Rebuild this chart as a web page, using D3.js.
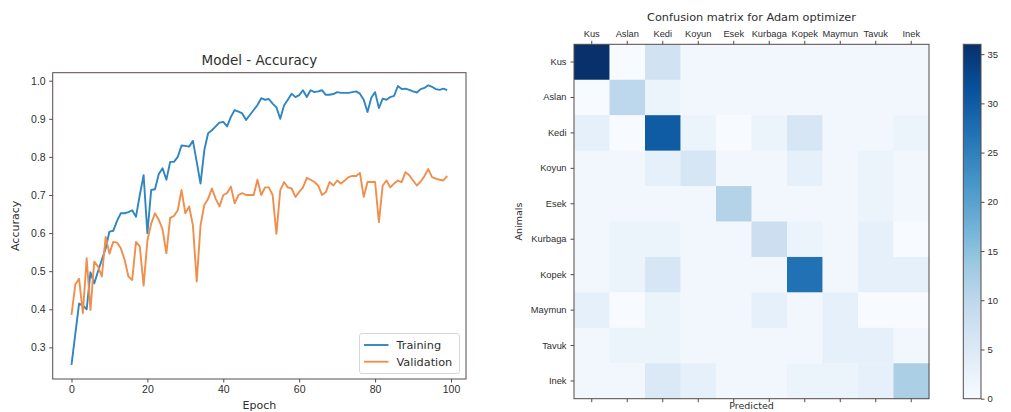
<!DOCTYPE html>
<html>
<head>
<meta charset="utf-8">
<script src="https://cdn.jsdelivr.net/npm/d3@7"></script>
<style>
  html, body { margin: 0; padding: 0; background: #ffffff; }
  svg { display: block; font-family: "DejaVu Sans", sans-serif; }
</style>
</head>
<body>
<svg id="fig" width="1011" height="412"></svg>
<script>
// ---- accuracy curves (one value per epoch) ----
const training = [
  0.254, 0.335, 0.415, 0.410, 0.400, 0.497, 0.468, 0.500, 0.530, 0.560,
  0.604, 0.606, 0.632, 0.652, 0.652, 0.655, 0.660, 0.643, 0.700, 0.752,
  0.600, 0.713, 0.715, 0.755, 0.770, 0.740, 0.787, 0.787, 0.800, 0.830,
  0.829, 0.827, 0.842, 0.787, 0.730, 0.818, 0.862, 0.870, 0.880, 0.890,
  0.892, 0.880, 0.905, 0.923, 0.919, 0.914, 0.897, 0.910, 0.923, 0.936,
  0.954, 0.950, 0.952, 0.940, 0.930, 0.900, 0.935, 0.950, 0.966, 0.957,
  0.962, 0.975, 0.957, 0.975, 0.970, 0.972, 0.975, 0.963, 0.963, 0.965,
  0.970, 0.968, 0.968, 0.968, 0.970, 0.972, 0.966, 0.950, 0.918, 0.955,
  0.970, 0.928, 0.953, 0.950, 0.957, 0.960, 0.986, 0.978, 0.979, 0.976,
  0.972, 0.969, 0.978, 0.981, 0.988, 0.984, 0.978, 0.976, 0.979, 0.975
];
const validation = [
  0.385, 0.465, 0.480, 0.390, 0.534, 0.398, 0.525, 0.512, 0.486, 0.590,
  0.546, 0.577, 0.575, 0.560, 0.530, 0.486, 0.477, 0.577, 0.565, 0.462,
  0.580, 0.625, 0.652, 0.635, 0.610, 0.547, 0.640, 0.645, 0.660, 0.713,
  0.652, 0.670, 0.620, 0.473, 0.620, 0.674, 0.690, 0.717, 0.690, 0.670,
  0.700, 0.705, 0.722, 0.678, 0.700, 0.705, 0.700, 0.700, 0.700, 0.740,
  0.700, 0.720, 0.720, 0.700, 0.598, 0.712, 0.734, 0.720, 0.717, 0.695,
  0.708, 0.720, 0.745, 0.740, 0.734, 0.725, 0.700, 0.707, 0.734, 0.725,
  0.738, 0.730, 0.738, 0.747, 0.750, 0.750, 0.758, 0.695, 0.734, 0.734,
  0.734, 0.629, 0.725, 0.738, 0.720, 0.730, 0.738, 0.734, 0.760, 0.752,
  0.738, 0.725, 0.735, 0.750, 0.768, 0.747, 0.743, 0.740, 0.738, 0.750
];
const accTicks = [0.3, 0.4, 0.5, 0.6, 0.7, 0.8, 0.9, 1.0];
const epochTicks = [0, 20, 40, 60, 80, 100];
const seriesNames = ["Training", "Validation"];

// ---- confusion matrix (rows = actual, columns = predicted) ----
const animals = ["Kus", "Aslan", "Kedi", "Koyun", "Esek", "Kurbaga", "Kopek", "Maymun", "Tavuk", "Inek"];
const confusion = [
  [36, 0,  7, 1,  1, 1,  1, 1, 1, 1],
  [ 0, 10, 2, 1,  1, 1,  1, 1, 1, 1],
  [ 3, 0, 30, 2,  0, 2,  6, 1, 1, 2],
  [ 1, 1,  3, 6,  1, 1,  3, 1, 2, 1],
  [ 1, 1,  1, 1, 11, 1,  1, 1, 2, 1],
  [ 1, 2,  2, 1,  1, 8,  2, 1, 3, 0],
  [ 1, 2,  6, 1,  1, 1, 27, 1, 3, 3],
  [ 3, 0,  2, 1,  1, 3,  1, 3, 0, 0],
  [ 1, 2,  2, 1,  1, 1,  1, 3, 3, 1],
  [ 1, 1,  5, 3,  1, 1,  2, 2, 3, 12]
];
const colorbarTicks = [0, 5, 10, 15, 20, 25, 30, 35];
const colorMax = 36;

const svg = d3.select("#fig");
const frameColor = "#574a47";
const textColor = "#2e2e2e";

// =============== left panel: accuracy per epoch ===============
const L = { left: 52.7, right: 466, top: 72.7, bottom: 379 };
const x = d3.scaleLinear().domain([-4.95, 103.95]).range([L.left, L.right]);
const y = d3.scaleLinear().domain([0.217, 1.021]).range([L.bottom, L.top]);

const left = svg.append("g");

const line = d3.line().x((d, i) => x(i)).y(d => y(d));
const lineColors = ["#2f86c1", "#f08e4c"];
[training, validation].forEach((s, k) => {
  left.append("path")
    .datum(s)
    .attr("d", line)
    .attr("fill", "none")
    .attr("stroke", lineColors[k])
    .attr("stroke-width", 1.9)
    .attr("stroke-linejoin", "round");
});

const xAxis = left.append("g")
  .attr("transform", `translate(0,${L.bottom})`)
  .call(d3.axisBottom(x).tickValues(epochTicks).tickSize(3.5).tickPadding(3.5).tickSizeOuter(0));
const yAxis = left.append("g")
  .attr("transform", `translate(${L.left},0)`)
  .call(d3.axisLeft(y).tickValues(accTicks).tickFormat(d3.format(".1f")).tickSize(3.5).tickPadding(3.5).tickSizeOuter(0));
[xAxis, yAxis].forEach(a => {
  a.select(".domain").remove();
  a.selectAll("line").attr("stroke", frameColor);
  a.selectAll("text").attr("fill", textColor).style("font-size", "10.5px");
});

left.append("rect")
  .attr("x", L.left).attr("y", L.top)
  .attr("width", L.right - L.left).attr("height", L.bottom - L.top)
  .attr("fill", "none").attr("stroke", frameColor).attr("stroke-width", 1);

left.append("text")
  .attr("x", (L.left + L.right) / 2).attr("y", 65)
  .attr("text-anchor", "middle").attr("fill", textColor)
  .style("font-size", "13.5px").text("Model - Accuracy");
left.append("text")
  .attr("x", (L.left + L.right) / 2).attr("y", 408.5)
  .attr("text-anchor", "middle").attr("fill", textColor)
  .style("font-size", "11px").text("Epoch");
left.append("text")
  .attr("transform", `translate(19,${(L.top + L.bottom) / 2}) rotate(-90)`)
  .attr("text-anchor", "middle").attr("fill", textColor)
  .style("font-size", "11px").text("Accuracy");

// legend
const lg = left.append("g").attr("transform", "translate(359.5,333.5)");
lg.append("rect")
  .attr("width", 100).attr("height", 40).attr("rx", 2.5)
  .attr("fill", "#ffffff").attr("fill-opacity", 0.85)
  .attr("stroke", "#d2d2d2").attr("stroke-width", 0.9);
seriesNames.forEach((name, k) => {
  const cy = 11.5 + k * 16.7;
  lg.append("line")
    .attr("x1", 4.5).attr("x2", 29).attr("y1", cy).attr("y2", cy)
    .attr("stroke", lineColors[k]).attr("stroke-width", 1.9);
  lg.append("text")
    .attr("x", 37).attr("y", cy + 4)
    .attr("fill", textColor).style("font-size", "11.3px").text(name);
});

// =============== right panel: confusion matrix ===============
const M = { left: 574, right: 929, top: 44.3, bottom: 398.7 };
const cx = d3.scaleBand().domain(animals).range([M.left, M.right]);
const cy = d3.scaleBand().domain(animals).range([M.top, M.bottom]);

// matplotlib "Blues" stops
const bluesStops = ["#f7fbff", "#deebf7", "#c6dbef", "#9ecae1", "#6baed6", "#4292c6", "#2171b5", "#08519c", "#08306b"];
const color = d3.scaleLinear()
  .domain(bluesStops.map((_, i) => i / (bluesStops.length - 1) * colorMax))
  .range(bluesStops)
  .interpolate(d3.interpolateRgb)
  .clamp(true);

const right = svg.append("g");
const cells = [];
confusion.forEach((row, r) => row.forEach((v, c) => cells.push({ r, c, v })));
right.selectAll("rect.cell")
  .data(cells)
  .join("rect")
  .attr("class", "cell")
  .attr("x", d => cx(animals[d.c]))
  .attr("y", d => cy(animals[d.r]))
  .attr("width", cx.bandwidth() + 0.4)
  .attr("height", cy.bandwidth() + 0.4)
  .attr("fill", d => color(d.v));

right.append("rect")
  .attr("x", M.left).attr("y", M.top)
  .attr("width", M.right - M.left).attr("height", M.bottom - M.top)
  .attr("fill", "none").attr("stroke", frameColor).attr("stroke-width", 1);

const topAxis = right.append("g")
  .attr("transform", `translate(0,${M.top})`)
  .call(d3.axisTop(cx).tickSize(3.5).tickPadding(4).tickSizeOuter(0));
const bottomAxis = right.append("g")
  .attr("transform", `translate(0,${M.bottom})`)
  .call(d3.axisBottom(cx).tickSize(3.5).tickFormat("").tickSizeOuter(0));
const leftAxis = right.append("g")
  .attr("transform", `translate(${M.left},0)`)
  .call(d3.axisLeft(cy).tickSize(3.5).tickPadding(4).tickSizeOuter(0));
[topAxis, bottomAxis, leftAxis].forEach(a => {
  a.select(".domain").remove();
  a.selectAll("line").attr("stroke", frameColor);
  a.selectAll("text").attr("fill", textColor).style("font-size", "9.3px");
});

right.append("text")
  .attr("x", (M.left + M.right) / 2).attr("y", 20.8)
  .attr("text-anchor", "middle").attr("fill", textColor)
  .style("font-size", "11.3px").text("Confusion matrix for Adam optimizer");
right.append("text")
  .attr("x", (M.left + M.right) / 2).attr("y", 409)
  .attr("text-anchor", "middle").attr("fill", textColor)
  .style("font-size", "9.5px").text("Predicted");
right.append("text")
  .attr("transform", `translate(521.5,${(M.top + M.bottom) / 2}) rotate(-90)`)
  .attr("text-anchor", "middle").attr("fill", textColor)
  .style("font-size", "9.5px").text("Animals");

// colorbar
const C = { left: 963.3, right: 981, top: 44.3, bottom: 398.7 };
const cScale = d3.scaleLinear().domain([0, colorMax]).range([C.bottom, C.top]);
const defs = svg.append("defs");
const grad = defs.append("linearGradient")
  .attr("id", "bluesGrad")
  .attr("x1", 0).attr("y1", 1).attr("x2", 0).attr("y2", 0);
bluesStops.forEach((col, i) => {
  grad.append("stop")
    .attr("offset", `${i / (bluesStops.length - 1) * 100}%`)
    .attr("stop-color", col);
});
right.append("rect")
  .attr("x", C.left).attr("y", C.top)
  .attr("width", C.right - C.left).attr("height", C.bottom - C.top)
  .attr("fill", "url(#bluesGrad)")
  .attr("stroke", frameColor).attr("stroke-width", 1);
const cAxis = right.append("g")
  .attr("transform", `translate(${C.right},0)`)
  .call(d3.axisRight(cScale).tickValues(colorbarTicks).tickSize(3.5).tickPadding(3).tickSizeOuter(0));
cAxis.select(".domain").remove();
cAxis.selectAll("line").attr("stroke", frameColor);
cAxis.selectAll("text").attr("fill", textColor).style("font-size", "9.5px");
</script>
</body>
</html>
